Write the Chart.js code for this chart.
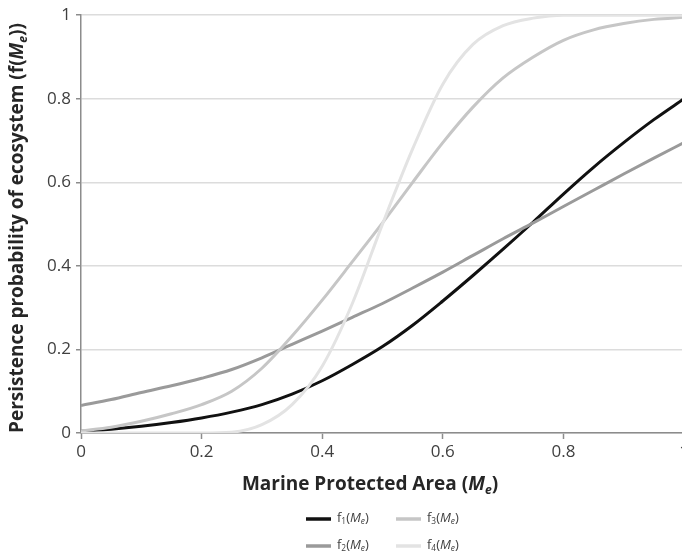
<!DOCTYPE html>
<html>
<head>
<meta charset="utf-8">
<script src="https://cdn.jsdelivr.net/npm/chart.js@4.4.0/dist/chart.umd.min.js"></script>
<style>
  html, body { margin: 0; padding: 0; background: #fff; overflow: hidden; }
  #wrap { width: 700px; height: 556px; }
</style>
</head>
<body>
<div id="wrap"><canvas id="chart" width="700" height="556"></canvas></div>
<script>
// values
const xs = [0, 0.05, 0.1, 0.15, 0.2, 0.25, 0.3, 0.35, 0.4, 0.45, 0.5, 0.55, 0.6, 0.65, 0.7, 0.75, 0.8, 0.85, 0.9, 0.95, 1];
const f1 = [0.004, 0.009, 0.016, 0.025, 0.036, 0.05, 0.068, 0.093, 0.125, 0.164, 0.207, 0.258, 0.316, 0.377, 0.44, 0.505, 0.572, 0.636, 0.695, 0.75, 0.8];
const f2 = [0.066, 0.08, 0.097, 0.113, 0.131, 0.152, 0.18, 0.212, 0.244, 0.277, 0.31, 0.347, 0.385, 0.425, 0.465, 0.503, 0.542, 0.581, 0.62, 0.658, 0.695];
const f3 = [0.005, 0.014, 0.028, 0.046, 0.068, 0.1, 0.155, 0.232, 0.318, 0.41, 0.503, 0.6, 0.695, 0.78, 0.85, 0.9, 0.94, 0.965, 0.98, 0.99, 0.995];
const f4 = [0, 0, 0, 0, 0, 0.002, 0.02, 0.068, 0.16, 0.31, 0.5, 0.68, 0.835, 0.93, 0.975, 0.993, 1, 1, 1, 1, 1];
const seriesIds = ['1', '2', '3', '4'];
const colors = ['#111111', '#9a9a9a', '#c6c6c6', '#e3e3e3'];

const FONT = '"Open Sans", "Liberation Sans", sans-serif';

const toPoints = (ys) => ys.map((y, i) => ({ x: xs[i], y: y }));

// draws a line of text made of pieces with their own style (italic, subscript)
function drawRich(ctx, segs, x, y, size, color, align) {
  const parts = segs.map(s => {
    const fs = s.sub ? size * 0.64 : size;
    const font = (s.italic ? 'italic ' : '') + (s.bold ? 'bold ' : '') + fs + 'px ' + FONT;
    ctx.font = font;
    return { t: s.t, sub: s.sub, font: font, w: ctx.measureText(s.t).width };
  });
  const total = parts.reduce((a, p) => a + p.w, 0);
  let cx = align === 'left' ? x : x - total / 2;
  ctx.fillStyle = color;
  ctx.textBaseline = 'middle';
  ctx.textAlign = 'left';
  parts.forEach(p => {
    ctx.font = p.font;
    ctx.fillText(p.t, cx, y + (p.sub ? size * 0.3 : 0));
    cx += p.w;
  });
}

const labelsPlugin = {
  id: 'labelsPlugin',
  afterDraw(chart) {
    const ctx = chart.ctx;
    ctx.save();

    // x axis title
    drawRich(ctx, [
      { t: 'Marine Protected Area (', bold: true },
      { t: 'M', bold: true, italic: true },
      { t: 'e', bold: true, italic: true, sub: true },
      { t: ')', bold: true }
    ], 370, 485, 19, '#262626');

    // y axis title
    ctx.save();
    ctx.translate(18, 228);
    ctx.rotate(-Math.PI / 2);
    drawRich(ctx, [
      { t: 'Persistence probability of ecosystem (f(', bold: true },
      { t: 'M', bold: true, italic: true },
      { t: 'e', bold: true, italic: true, sub: true },
      { t: '))', bold: true }
    ], 0, 0, 19, '#262626');
    ctx.restore();

    // legend, two columns: f1 f3 / f2 f4
    const order = [0, 2, 1, 3];
    const left = 306;
    order.forEach((di, k) => {
      const col = k % 2, row = Math.floor(k / 2);
      const lx = left + col * 90;
      const ly = 519 + row * 27;
      ctx.strokeStyle = colors[di];
      ctx.lineWidth = 3.5;
      ctx.beginPath();
      ctx.moveTo(lx, ly);
      ctx.lineTo(lx + 25, ly);
      ctx.stroke();
      drawRich(ctx, [
        { t: 'f' },
        { t: seriesIds[di], sub: true },
        { t: '(' },
        { t: 'M', italic: true },
        { t: 'e', italic: true, sub: true },
        { t: ')' }
      ], lx + 31, ly - 1, 13, '#404040', 'left');
    });
    ctx.restore();
  }
};

const series = [f1, f2, f3, f4];

new Chart(document.getElementById('chart'), {
  type: 'line',
  data: {
    datasets: series.map((ys, i) => ({
      label: 'f' + seriesIds[i],
      data: toPoints(ys),
      borderColor: colors[i],
      borderWidth: 3,
      pointRadius: 0,
      fill: false,
      cubicInterpolationMode: 'monotone',
      order: 4 - i
    })).reverse()
  },
  options: {
    responsive: false,
    animation: false,
    layout: { padding: { left: 40, right: 16, top: 15, bottom: 88 } },
    plugins: { legend: { display: false }, tooltip: { enabled: false } },
    scales: {
      x: {
        type: 'linear',
        min: 0,
        max: 1,
        afterFit(scale) { scale.height = 35; },
        border: { color: '#8c8c8c', width: 1.5 },
        grid: { drawOnChartArea: false, drawTicks: true, tickLength: 6, tickColor: '#8c8c8c', tickWidth: 1.5 },
        ticks: {
          stepSize: 0.2,
          padding: 3,
          color: '#404040',
          font: { family: FONT, size: 17 },
          maxRotation: 0,
          callback: v => String(+v.toFixed(1))
        }
      },
      y: {
        min: 0,
        max: 1,
        afterFit(scale) { scale.width = 41; },
        border: { color: '#8c8c8c', width: 1.5 },
        grid: { color: '#dcdcdc', lineWidth: 1.5, drawTicks: true, tickLength: 5, tickColor: '#8c8c8c', tickWidth: 1.5 },
        ticks: {
          stepSize: 0.2,
          padding: 5,
          color: '#404040',
          font: { family: FONT, size: 17 },
          callback: v => String(+v.toFixed(1))
        }
      }
    }
  },
  plugins: [labelsPlugin]
});
</script>
</body>
</html>
